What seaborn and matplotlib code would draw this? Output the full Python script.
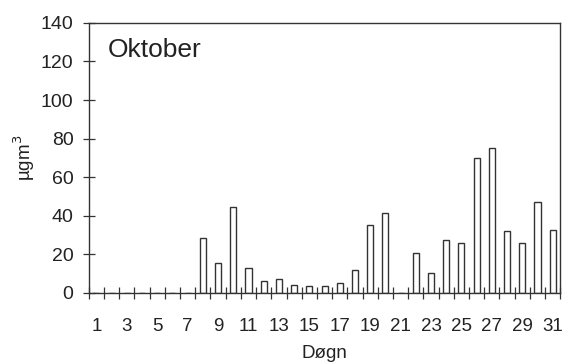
import numpy as np
import pandas as pd
import matplotlib
matplotlib.use('Agg')
import matplotlib.pyplot as plt
import seaborn as sns

# Data: daily values for October
days = list(range(1, 32))
values = [0, 0, 0, 0, 0, 0, 0,
          28.5, 15.5, 44.5, 13, 6, 7, 4, 3.5, 3.5, 5, 12, 35, 41.5,
          0, 20.5, 10.5, 27.5, 26, 70, 75, 32, 26, 47, 32.5]
day_labels = [str(d) for d in days if d % 2 == 1]

df = pd.DataFrame({'Døgn': days, 'value': values})

sns.set_style('white')
plt.rcParams['font.family'] = ['Liberation Sans', 'DejaVu Sans']

fig = plt.figure(figsize=(5.62, 3.63), dpi=100)
ax = fig.add_axes([0.158, 0.193, 0.839, 0.744])

sns.barplot(data=df, x='Døgn', y='value', ax=ax, color='white',
            edgecolor='#333333', linewidth=1.0, width=0.4)

ax.set_xlim(-0.5, 30.5)
ax.set_ylim(0, 140)

# tick marks at day boundaries, labels at day centres
ax.set_xticks(np.arange(-0.5, 31, 1))
ax.set_xticklabels([])
ax.set_xticks(np.arange(0, 31, 2), minor=True)
ax.set_xticklabels(day_labels, minor=True)
ax.tick_params(axis='x', which='major', direction='inout', length=8,
               width=0.9, color='#333333', bottom=True)
ax.tick_params(axis='x', which='minor', length=0, labelsize=13.5,
               pad=18, labelcolor='#222222', bottom=True)

ax.set_yticks(range(0, 141, 20))
ax.tick_params(axis='y', direction='inout', length=8, width=0.9, pad=7,
               color='#333333', labelsize=14, labelcolor='#222222', left=True)

for side in ['left', 'bottom', 'top', 'right']:
    ax.spines[side].set_visible(True)
    ax.spines[side].set_color('#333333')
    ax.spines[side].set_linewidth(1.0)

ax.set_xlabel('Døgn', fontsize=13.5, color='#222222', labelpad=7)
ax.set_ylabel('µgm$^3$', fontsize=13.5, color='#222222', labelpad=3)

ax.text(0.04, 0.9, 'Oktober', transform=ax.transAxes, fontsize=19,
        color='#222222', ha='left', va='center')

fig.savefig('out.png', dpi=100)
